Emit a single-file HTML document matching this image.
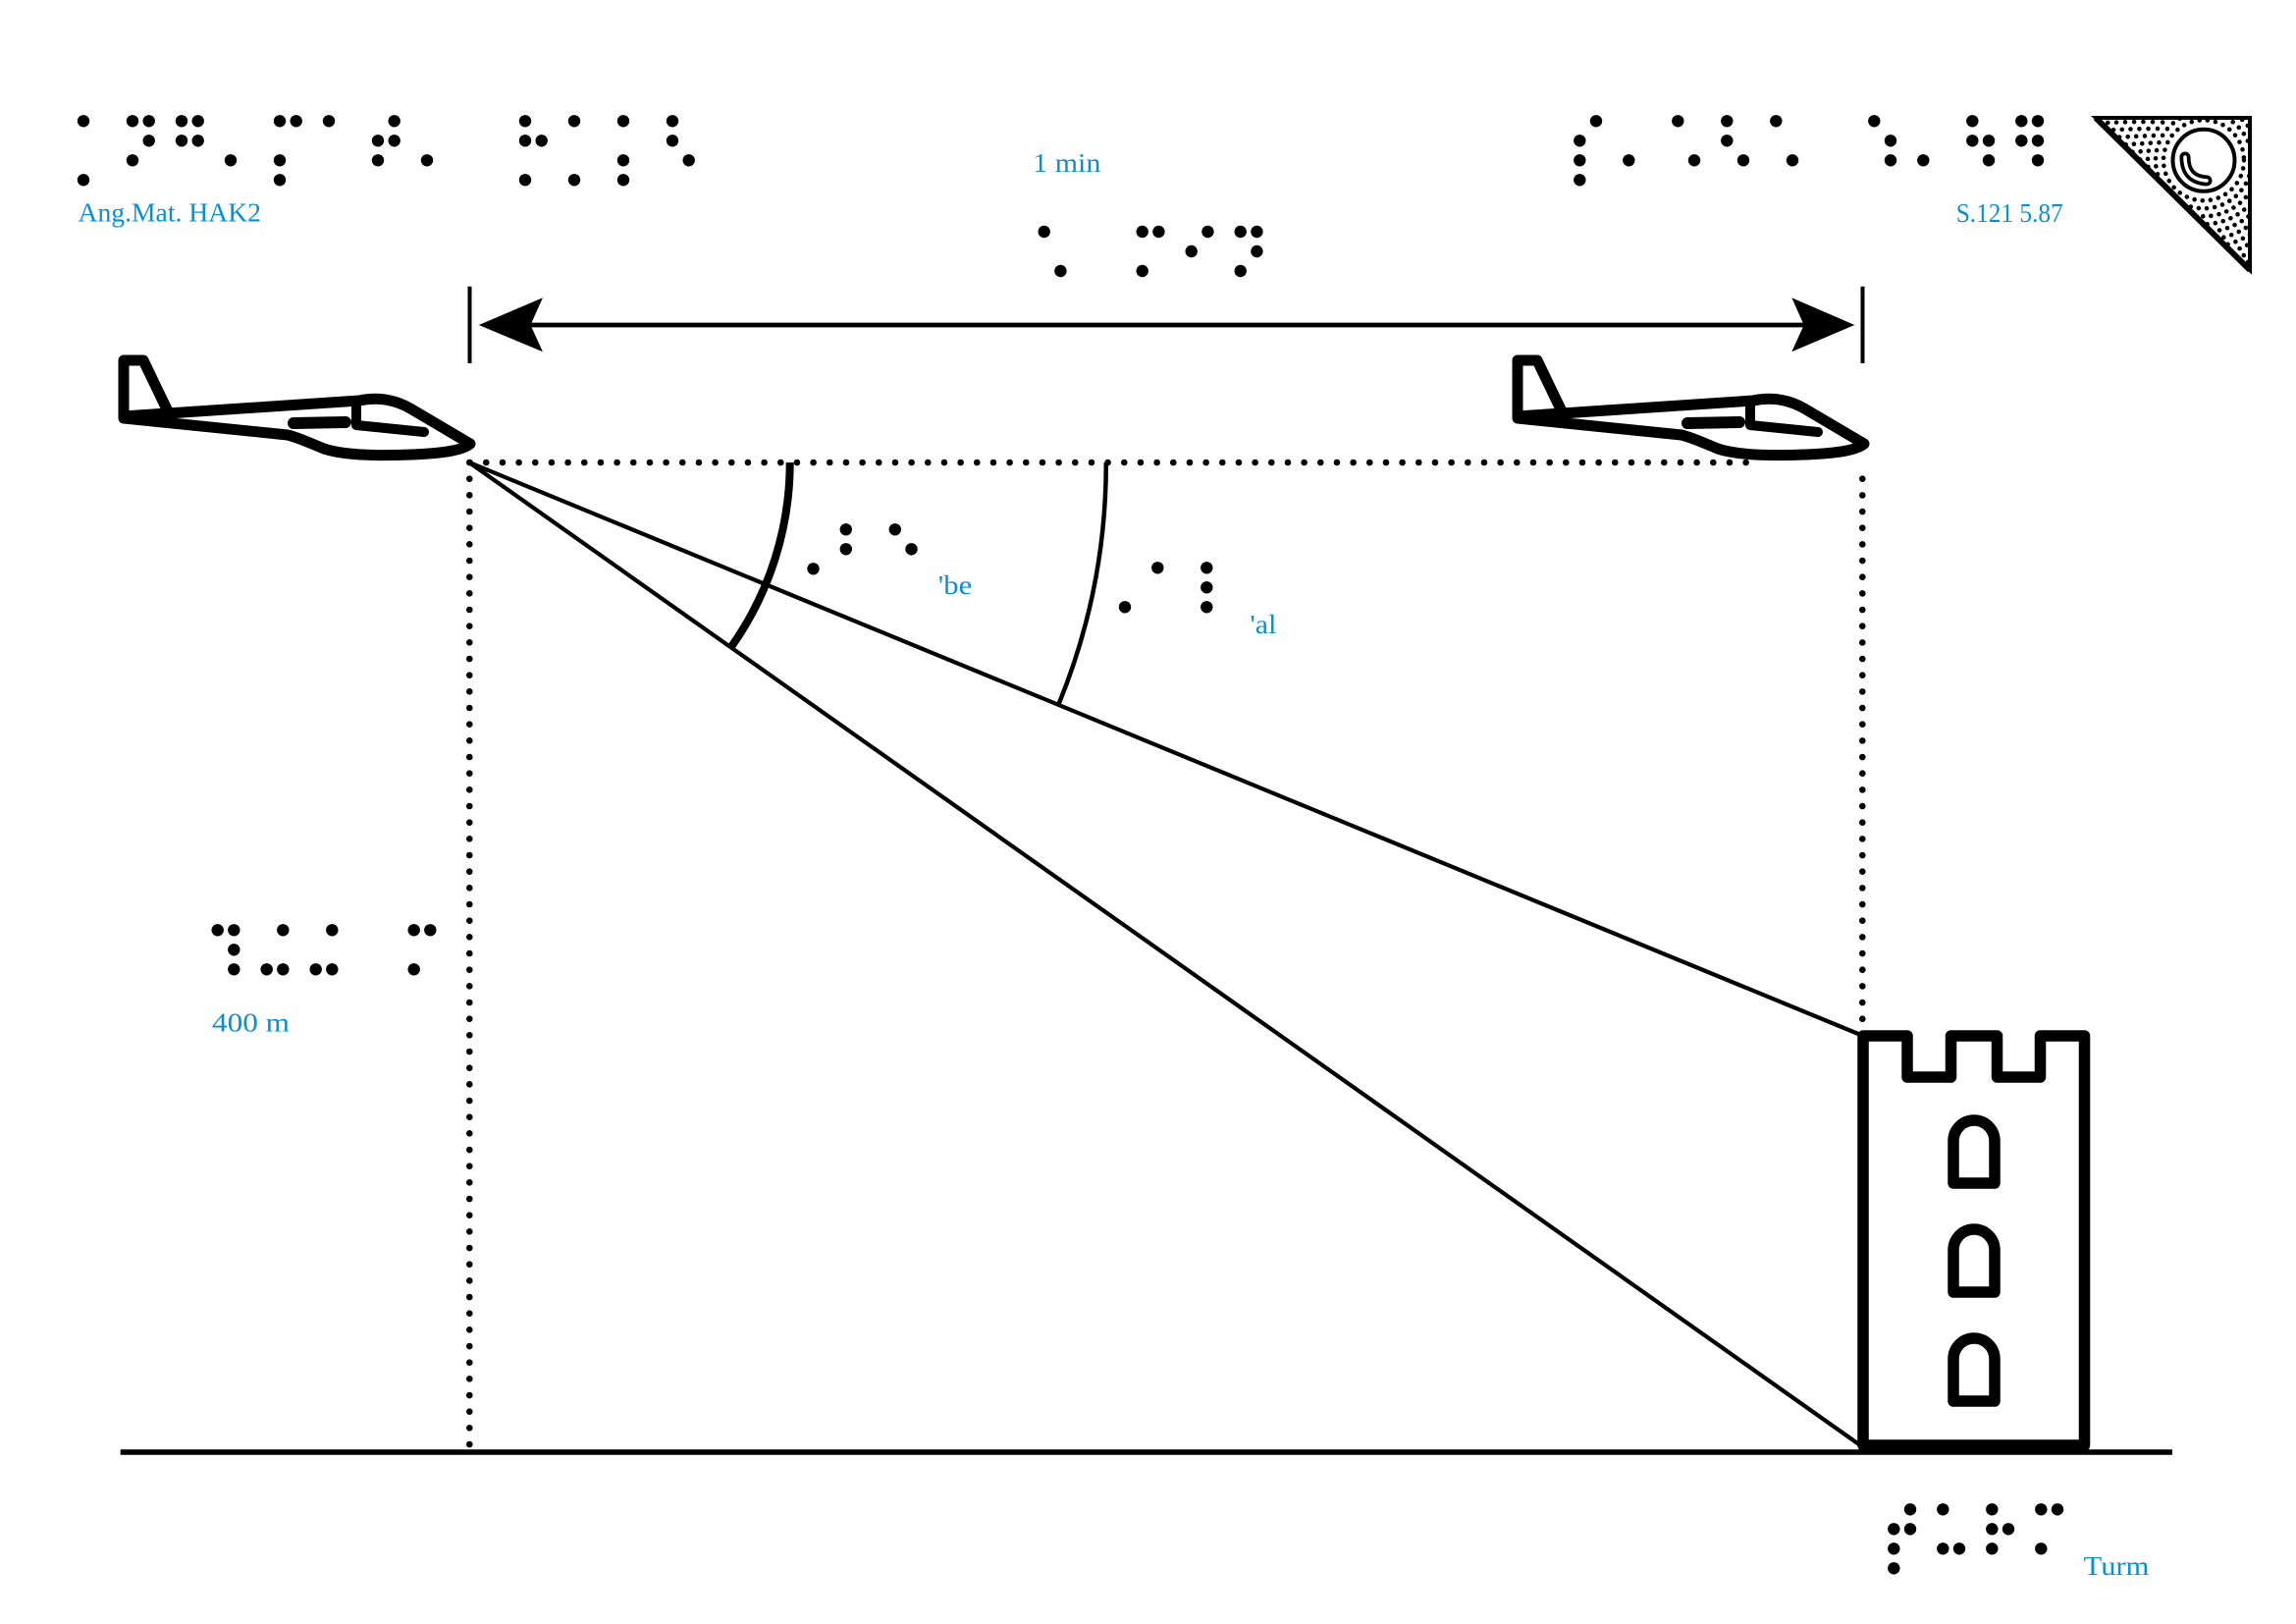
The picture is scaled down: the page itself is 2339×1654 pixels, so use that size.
<!DOCTYPE html>
<html>
<head>
<meta charset="utf-8">
<style>
html,body{margin:0;padding:0;background:#fff;}
body{width:2339px;height:1654px;overflow:hidden;}
svg{display:block;}
text{font-family:"Liberation Serif",serif;fill:#0a8fd3;font-size:27px;}
</style>
</head>
<body>
<svg width="2339" height="1654" viewBox="0 0 2339 1654" xmlns="http://www.w3.org/2000/svg">
<rect x="0" y="0" width="2339" height="1654" fill="#fff"/>
<defs>
  <clipPath id="tri"><polygon points="2135,120 2292,120 2292,275"/></clipPath>
  <g id="plane" fill="none" stroke="#000" stroke-width="11" stroke-linejoin="round" stroke-linecap="round">
    <path d="M126,424 V367 H146 L172,421"/>
    <path d="M126,424 L366,408 C385,404 402,407 418,416 L479,452 C470,460 440,463 400,463.5 C370,464 345,462 330,457 C315,451 305,446 293,443 L126,426"/>
    <path d="M363,413 V433 L432,440" stroke-width="10"/>
    <path d="M299,431 L352,430" stroke-width="12"/>
  </g>
</defs>

<!-- Top-left braille -->
<g fill="#000">
  <circle cx="85" cy="123.3" r="6.2"/><circle cx="135" cy="123.3" r="6.2"/><circle cx="151.7" cy="123.3" r="6.2"/><circle cx="185" cy="123.3" r="6.2"/><circle cx="201.7" cy="123.3" r="6.2"/><circle cx="285" cy="123.3" r="6.2"/><circle cx="301.7" cy="123.3" r="6.2"/><circle cx="335" cy="123.3" r="6.2"/><circle cx="401.7" cy="123.3" r="6.2"/><circle cx="535" cy="123.3" r="6.2"/><circle cx="585" cy="123.3" r="6.2"/><circle cx="635" cy="123.3" r="6.2"/><circle cx="685" cy="123.3" r="6.2"/>
  <circle cx="151.7" cy="143.3" r="6.2"/><circle cx="185" cy="143.3" r="6.2"/><circle cx="201.7" cy="143.3" r="6.2"/><circle cx="385" cy="143.3" r="6.2"/><circle cx="401.7" cy="143.3" r="6.2"/><circle cx="535" cy="143.3" r="6.2"/><circle cx="551.7" cy="143.3" r="6.2"/><circle cx="685" cy="143.3" r="6.2"/>
  <circle cx="135" cy="163.3" r="6.2"/><circle cx="235" cy="163.3" r="6.2"/><circle cx="285" cy="163.3" r="6.2"/><circle cx="385" cy="163.3" r="6.2"/><circle cx="435" cy="163.3" r="6.2"/><circle cx="635" cy="163.3" r="6.2"/><circle cx="701.7" cy="163.3" r="6.2"/>
  <circle cx="85" cy="183.3" r="6.2"/><circle cx="285" cy="183.3" r="6.2"/><circle cx="535" cy="183.3" r="6.2"/><circle cx="585" cy="183.3" r="6.2"/><circle cx="635" cy="183.3" r="6.2"/>
</g>
<text x="79.5" y="225.7" textLength="186.5" lengthAdjust="spacingAndGlyphs">Ang.Mat. HAK2</text>

<!-- Top-right braille -->
<g fill="#000">
  <circle cx="1626" cy="123.3" r="6.2"/><circle cx="1709.3" cy="123.3" r="6.2"/><circle cx="1759.3" cy="123.3" r="6.2"/><circle cx="1809.3" cy="123.3" r="6.2"/><circle cx="1909.3" cy="123.3" r="6.2"/><circle cx="2009.3" cy="123.3" r="6.2"/><circle cx="2059.3" cy="123.3" r="6.2"/><circle cx="2076" cy="123.3" r="6.2"/>
  <circle cx="1609.3" cy="143.3" r="6.2"/><circle cx="1759.3" cy="143.3" r="6.2"/><circle cx="1926" cy="143.3" r="6.2"/><circle cx="2009.3" cy="143.3" r="6.2"/><circle cx="2026" cy="143.3" r="6.2"/><circle cx="2059.3" cy="143.3" r="6.2"/><circle cx="2076" cy="143.3" r="6.2"/>
  <circle cx="1609.3" cy="163.3" r="6.2"/><circle cx="1659.3" cy="163.3" r="6.2"/><circle cx="1726" cy="163.3" r="6.2"/><circle cx="1776" cy="163.3" r="6.2"/><circle cx="1826" cy="163.3" r="6.2"/><circle cx="1926" cy="163.3" r="6.2"/><circle cx="1959.3" cy="163.3" r="6.2"/><circle cx="2026" cy="163.3" r="6.2"/><circle cx="2076" cy="163.3" r="6.2"/>
  <circle cx="1609.3" cy="183.3" r="6.2"/>
</g>
<text x="1992.7" y="226" textLength="109" lengthAdjust="spacingAndGlyphs">S.121 5.87</text>

<!-- Triangle logo -->
<g clip-path="url(#tri)" fill="none" stroke="#000" stroke-width="4.6" stroke-linecap="round">
  <circle cx="2245" cy="163.3" r="41" stroke-dasharray="0 8.2"/>
  <circle cx="2245" cy="163.3" r="49" stroke-dasharray="0 8.2"/>
  <circle cx="2245" cy="163.3" r="57" stroke-dasharray="0 8.2"/>
  <circle cx="2245" cy="163.3" r="65" stroke-dasharray="0 8.2"/>
  <circle cx="2245" cy="163.3" r="73" stroke-dasharray="0 8.2"/>
  <circle cx="2245" cy="163.3" r="81" stroke-dasharray="0 8.2"/>
  <circle cx="2245" cy="163.3" r="89" stroke-dasharray="0 8.2"/>
  <circle cx="2245" cy="163.3" r="97" stroke-dasharray="0 8.2"/>
  <circle cx="2245" cy="163.3" r="105" stroke-dasharray="0 8.2"/>
  <circle cx="2245" cy="163.3" r="113" stroke-dasharray="0 8.2"/>
  <circle cx="2245" cy="163.3" r="121" stroke-dasharray="0 8.2"/>
</g>
<circle cx="2245" cy="163.3" r="31.5" fill="#fff" stroke="#000" stroke-width="4"/>
<path d="M2226,160 C2226,175 2233,183 2248,184" fill="none" stroke="#000" stroke-width="11" stroke-linecap="round"/>
<path d="M2226,160 C2226,175 2233,183 2248,184" fill="none" stroke="#fff" stroke-width="3.5" stroke-linecap="round"/>
<polygon points="2135,120 2292,120 2292,275" fill="none" stroke="#000" stroke-width="4" stroke-linejoin="miter"/>
<line x1="2135" y1="120" x2="2292" y2="275" stroke="#000" stroke-width="6"/>

<!-- 1 min -->
<text x="1052.3" y="175" textLength="69" lengthAdjust="spacingAndGlyphs">1 min</text>
<g fill="#000">
  <circle cx="1063.7" cy="236" r="6.2"/><circle cx="1163.7" cy="236" r="6.2"/><circle cx="1180.4" cy="236" r="6.2"/><circle cx="1230.4" cy="236" r="6.2"/><circle cx="1263.7" cy="236" r="6.2"/><circle cx="1280.4" cy="236" r="6.2"/>
  <circle cx="1213.7" cy="256" r="6.2"/><circle cx="1280.4" cy="256" r="6.2"/>
  <circle cx="1080.4" cy="276" r="6.2"/><circle cx="1163.7" cy="276" r="6.2"/><circle cx="1263.7" cy="276" r="6.2"/>
</g>

<!-- Dimension arrow -->
<line x1="478.5" y1="291.7" x2="478.5" y2="370" stroke="#000" stroke-width="4"/>
<line x1="1897.5" y1="291.7" x2="1897.5" y2="370" stroke="#000" stroke-width="4"/>
<line x1="535" y1="331" x2="1845" y2="331" stroke="#000" stroke-width="4.7"/>
<polygon points="487.8,331 552.9,303.3 540.5,331 552.9,358.3" fill="#000"/>
<polygon points="1889.3,331 1825.3,303.3 1837.7,331 1825.3,358.3" fill="#000"/>

<!-- Planes -->
<use href="#plane"/>
<use href="#plane" transform="translate(1420,0)"/>

<!-- Dotted lines -->
<g stroke="#000" stroke-width="6.6" stroke-linecap="round" stroke-dasharray="0 16.667" fill="none">
  <line x1="478.6" y1="471" x2="1779" y2="471"/>
  <line x1="478.3" y1="471" x2="478.3" y2="1472"/>
  <line x1="1897.3" y1="487.7" x2="1897.3" y2="1039"/>
</g>

<!-- Sight lines -->
<line x1="478" y1="471" x2="1898" y2="1055" stroke="#000" stroke-width="4.2"/>
<line x1="478" y1="471" x2="1898" y2="1474" stroke="#000" stroke-width="4.2"/>

<!-- Angle arcs -->
<path d="M804.7,471 A324.7,324.7 0 0 1 745.3,658.3" fill="none" stroke="#000" stroke-width="8"/>
<path d="M1126.8,471 A646.8,646.8 0 0 1 1078.7,716.7" fill="none" stroke="#000" stroke-width="4.5"/>

<!-- be / al braille -->
<g fill="#000">
  <circle cx="861.8" cy="539.3" r="6.2"/><circle cx="911.8" cy="539.3" r="6.2"/>
  <circle cx="861.8" cy="559.3" r="6.2"/><circle cx="928.5" cy="559.3" r="6.2"/>
  <circle cx="828.5" cy="579.3" r="6.2"/>
  <circle cx="1179.3" cy="578.3" r="6.2"/><circle cx="1229.3" cy="578.3" r="6.2"/>
  <circle cx="1229.3" cy="598.3" r="6.2"/>
  <circle cx="1146" cy="618.3" r="6.2"/><circle cx="1229.3" cy="618.3" r="6.2"/>
</g>
<text x="955.8" y="605" textLength="34.4" lengthAdjust="spacingAndGlyphs">'be</text>
<text x="1273.4" y="645" textLength="27" lengthAdjust="spacingAndGlyphs">'al</text>

<!-- 400 m -->
<g fill="#000">
  <circle cx="221.7" cy="947.3" r="6.2"/><circle cx="238.3" cy="947.3" r="6.2"/><circle cx="288.3" cy="947.3" r="6.2"/><circle cx="338.3" cy="947.3" r="6.2"/><circle cx="421.7" cy="947.3" r="6.2"/><circle cx="438.3" cy="947.3" r="6.2"/>
  <circle cx="238.3" cy="967.3" r="6.2"/>
  <circle cx="238.3" cy="987.3" r="6.2"/><circle cx="271.7" cy="987.3" r="6.2"/><circle cx="288.3" cy="987.3" r="6.2"/><circle cx="321.7" cy="987.3" r="6.2"/><circle cx="338.3" cy="987.3" r="6.2"/><circle cx="421.7" cy="987.3" r="6.2"/>
</g>
<text x="216" y="1050.7" textLength="79" lengthAdjust="spacingAndGlyphs">400 m</text>

<!-- Tower -->
<path d="M1898,1055 H1943 V1097 H1987.5 V1055 H2034.5 V1097 H2078.5 V1055 H2123.5 V1472 H1898 Z" fill="none" stroke="#000" stroke-width="11.5" stroke-linejoin="round"/>
<g fill="none" stroke="#000" stroke-width="11.5" stroke-linejoin="round">
  <path d="M1990,1205 V1162 A21,21 0 0 1 2032,1162 V1205 Z"/>
  <path d="M1990,1316 V1273 A21,21 0 0 1 2032,1273 V1316 Z"/>
  <path d="M1990,1427 V1384 A21,21 0 0 1 2032,1384 V1427 Z"/>
</g>

<!-- Ground -->
<line x1="122.7" y1="1479" x2="2213" y2="1479" stroke="#000" stroke-width="5.5"/>

<!-- Turm -->
<g fill="#000">
  <circle cx="1946" cy="1537.3" r="6.2"/><circle cx="1979.3" cy="1537.3" r="6.2"/><circle cx="2029.3" cy="1537.3" r="6.2"/><circle cx="2079.3" cy="1537.3" r="6.2"/><circle cx="2096" cy="1537.3" r="6.2"/>
  <circle cx="1929.3" cy="1557.3" r="6.2"/><circle cx="1946" cy="1557.3" r="6.2"/><circle cx="2029.3" cy="1557.3" r="6.2"/><circle cx="2046" cy="1557.3" r="6.2"/>
  <circle cx="1929.3" cy="1577.3" r="6.2"/><circle cx="1979.3" cy="1577.3" r="6.2"/><circle cx="1996" cy="1577.3" r="6.2"/><circle cx="2029.3" cy="1577.3" r="6.2"/><circle cx="2079.3" cy="1577.3" r="6.2"/>
  <circle cx="1929.3" cy="1597.3" r="6.2"/>
</g>
<text x="2122.7" y="1604" textLength="66.6" lengthAdjust="spacingAndGlyphs">Turm</text>
</svg>
</body>
</html>
